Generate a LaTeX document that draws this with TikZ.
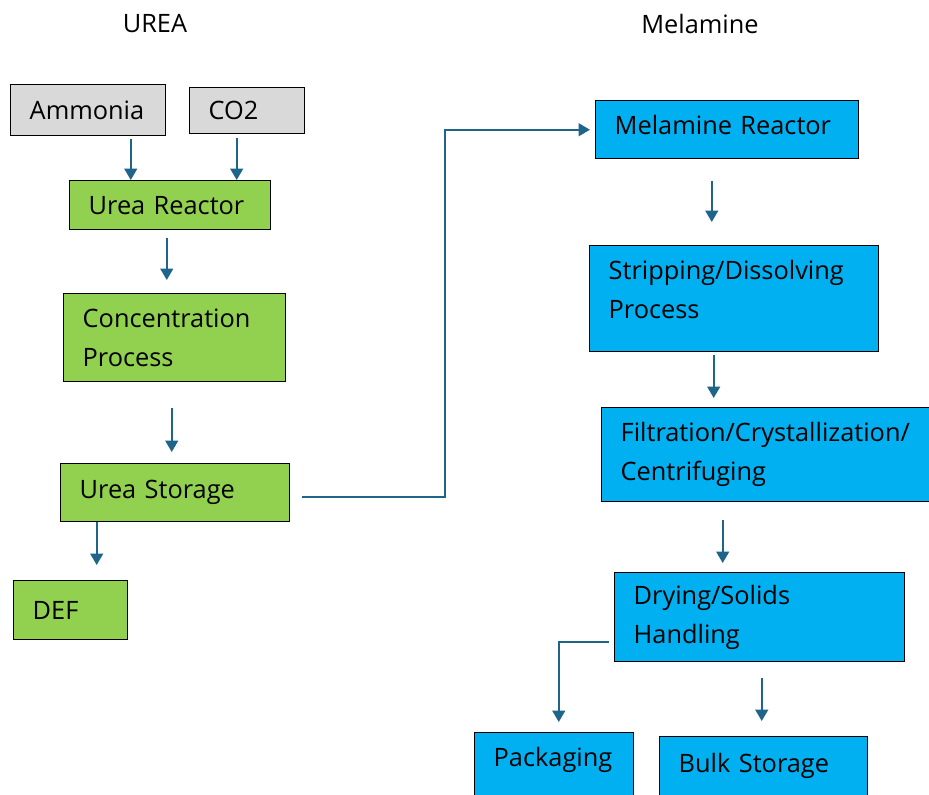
\documentclass[tikz,border=0pt]{standalone}
\usepackage{fontspec}
\setmainfont{Open Sans}
\usepackage{xcolor}
\usepackage{tikz}
\usetikzlibrary{calc}
\usetikzlibrary{positioning}
\usetikzlibrary{arrows.meta}
\definecolor{feedgray}{HTML}{D9D9D9}
\definecolor{ureagreen}{HTML}{92D050}
\definecolor{melblue}{HTML}{00B0F0}
\definecolor{flowblue}{RGB}{31,100,138}
\tikzset{
	stage/.style={draw=black, line width=1.1pt, anchor=north west, align=left,
		inner xsep=14.25pt, inner ysep=0pt, font=\fontsize{19}{29}\selectfont},
	flow/.style={draw=flowblue, line width=1.5pt, -{Triangle[width=9.5pt,length=8.5pt]}},
	heading/.style={font=\fontsize{19}{22}\selectfont},
}

\begin{document}
\begin{tikzpicture}[x=0.75pt, y=-0.75pt]
		
		\useasboundingbox (0, 0) rectangle (929, 794);
		\clip (0, 0) rectangle (929, 794);
		
		\node[heading] (title-urea) at (155, 24) {UREA};
		\node[heading] (title-mel) at (700, 24) {Melamine};
		
		\node[stage, fill=feedgray, text width=87.75pt, minimum height=38.25pt] (ammonia) at (10, 84) {Ammonia};
		\node[stage, fill=feedgray, text width=57.75pt, minimum height=34.5pt] (co2) at (189, 87) {CO2};
		
		\node[stage, fill=ureagreen, text width=122.25pt, minimum height=36.75pt] (ureareac) at (69, 180) {Urea Reactor};
		\node[stage, fill=ureagreen, text width=138pt, minimum height=66pt] (conc) at (63, 293) {Concentration\\Process};
		\node[stage, fill=ureagreen, text width=143.25pt, minimum height=43.5pt] (storage) at (60, 463) {Urea Storage};
		\node[stage, fill=ureagreen, text width=57pt, minimum height=44.25pt] (def) at (13, 580) {DEF};
		
		\node[stage, fill=melblue, text width=168.75pt, text height=25.5pt, text depth=18pt] (melreac) at (595, 100) {Melamine Reactor};
		\node[stage, fill=melblue, text width=188.25pt, text height=25.5pt, text depth=54pt] (strip) at (589, 245) {Stripping/Dissolving\\Process};
		\node[stage, fill=melblue, text width=222.75pt, minimum height=70.5pt] (filt) at (601, 407) {Filtration/Crystallization/\\Centrifuging};
		\node[stage, fill=melblue, text width=189pt, minimum height=66.75pt] (drying) at (614, 572) {Drying/Solids\\Handling};
		\node[stage, fill=melblue, text width=90.75pt, text height=25.5pt, text depth=27pt] (pack) at (474, 732) {Packaging};
		\node[stage, fill=melblue, text width=127.5pt, text height=27pt, text depth=22.5pt] (bulk) at (659, 736) {Bulk Storage};
		
		\coordinate (bend) at (445, 300);
		
		\draw[flow, shorten <=2.25pt] ([xshift=31.9pt]ammonia.south) -- ([xshift=31.9pt]ammonia.south |- ureareac.north);
		\draw[flow, shorten <=3pt] ([xshift=-7.9pt]co2.south) -- ([xshift=-7.9pt]co2.south |- ureareac.north);
		\draw[flow, shorten <=6pt, shorten >=9.75pt] ([xshift=-2.6pt]ureareac.south) -- ([xshift=-2.6pt]ureareac.south |- conc.north);
		\draw[flow, shorten <=19.5pt, shorten >=8.25pt] ([xshift=-2.25pt]conc.south) -- ([xshift=-2.25pt]conc.south |- storage.north);
		\draw[flow, shorten >=11.25pt] ([xshift=-58.9pt]storage.south) -- ([xshift=-58.9pt]storage.south |- def.north);
		\draw[flow, shorten <=9pt, shorten >=3.75pt] ([yshift=-3pt]storage.east) -| (bend) |- (melreac.west);
		
		\draw[flow, shorten <=16.5pt, shorten >=17.25pt] ([xshift=-11.6pt]melreac.south) -- ([xshift=-11.6pt]melreac.south |- strip.north);
		\draw[flow, shorten <=2.25pt, shorten >=6.75pt] ([xshift=-15.4pt]strip.south) -- ([xshift=-15.4pt]strip.south |- filt.north);
		\draw[flow, shorten <=13.5pt, shorten >=6.75pt] ([xshift=-34.9pt]filt.south) -- ([xshift=-34.9pt]filt.south |- drying.north);
		\draw[flow, shorten <=3.75pt, shorten >=7.5pt] ([yshift=-18.4pt]drying.west) -| ([xshift=3.4pt]pack.north);
		\draw[flow, shorten <=12pt, shorten >=11.25pt] ([xshift=1.5pt]drying.south) -- ([xshift=1.5pt]drying.south |- bulk.north);
		
	\end{tikzpicture}
\end{document}
